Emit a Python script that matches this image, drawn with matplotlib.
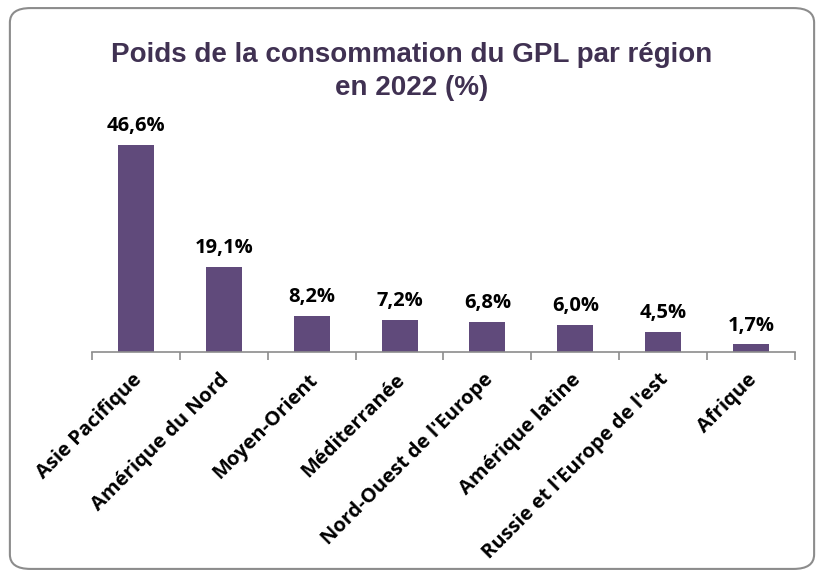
import matplotlib.pyplot as plt
from matplotlib.patches import FancyBboxPatch
import numpy as np

regions = ["Asie Pacifique", "Amérique du Nord", "Moyen-Orient", "Méditerranée",
           "Nord-Ouest de l'Europe", "Amérique latine", "Russie et l'Europe de l'est", "Afrique"]
shares = [46.6, 19.1, 8.2, 7.2, 6.8, 6.0, 4.5, 1.7]
share_labels = ["46,6%", "19,1%", "8,2%", "7,2%", "6,8%", "6,0%", "4,5%", "1,7%"]

bar_color = '#604a7b'
title_color = '#403152'

fig = plt.figure(figsize=[8.24, 5.77], dpi=100)
# rounded frame around the chart
frame = FancyBboxPatch((0.012, 0.014), 0.976, 0.972, boxstyle='round,pad=0,rounding_size=0.025',
                       transform=fig.transFigure, facecolor='none', edgecolor='#8c8c8c',
                       linewidth=1.5, zorder=-1)
fig.patches.append(frame)

ax = fig.add_axes([0.1117, 0.39, 0.853, 0.385])
ax.patch.set_alpha(0)
x = np.arange(len(regions))
ax.bar(x, shares, width=0.41, color=bar_color)
for xi, v, lab in zip(x, shares, share_labels):
    ax.text(xi, v + 2.0, lab, ha='center', va='bottom', fontsize=14.5, fontweight='bold',
            family='Open Sans', color='black')

ax.set_xlim(-0.5, len(regions) - 0.5)
ax.set_ylim(0, 50)
for s in ['top', 'right', 'left']:
    ax.spines[s].set_visible(False)
ax.spines['bottom'].set_color('#8c8c8c')
ax.spines['bottom'].set_linewidth(1.2)
ax.set_yticks([])
ax.set_xticks(np.arange(-0.5, len(regions)), minor=False)
ax.set_xticklabels([])
ax.tick_params(axis='x', length=6, color='#8c8c8c', width=1.2, direction='out')
for xi, name in zip(x, regions):
    ax.text(xi - 0.05, -4.0, name, rotation=45, ha='right', va='top', rotation_mode='anchor',
            fontsize=14.5, fontweight='bold', family='Open Sans')

fig.text(0.5, 0.905, "Poids de la consommation du GPL par région", ha='center', va='center',
         fontsize=20, fontweight='bold', color=title_color, family='Liberation Sans')
fig.text(0.5, 0.847, "en 2022 (%)", ha='center', va='center',
         fontsize=20, fontweight='bold', color=title_color, family='Liberation Sans')

fig.savefig('out.png', dpi=100)
